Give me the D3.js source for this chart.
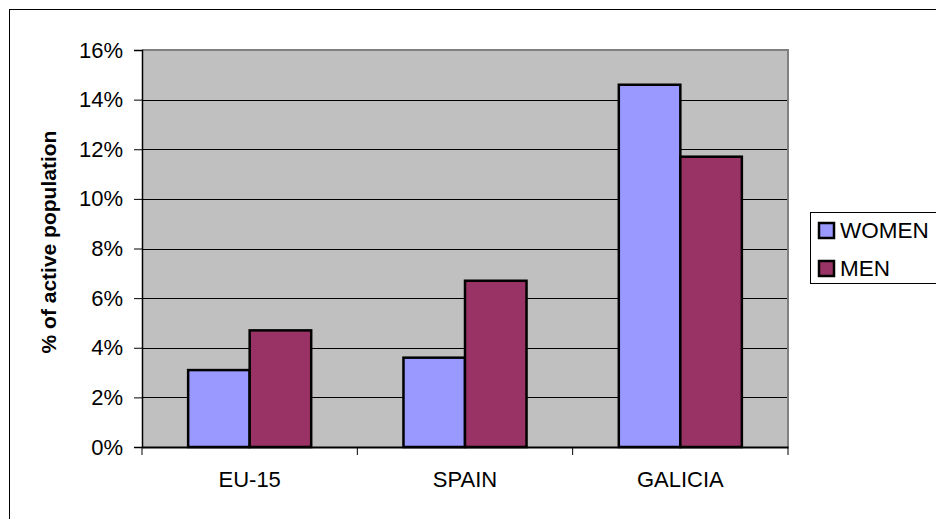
<!DOCTYPE html>
<html>
<head>
<meta charset="utf-8">
<script src="https://cdn.jsdelivr.net/npm/d3@7"></script>
<style>
  html, body { margin: 0; padding: 0; background: #fff; }
  svg { display: block; font-family: Arial, "Liberation Sans", sans-serif; }
</style>
</head>
<body>
<svg id="chart" width="936" height="519"></svg>
<script>
// Unemployment rate by sex, % of active population
const categories = ["EU-15", "SPAIN", "GALICIA"];
const seriesNames = ["WOMEN", "MEN"];
const women = [3.1, 3.6, 14.6];
const men = [4.7, 6.7, 11.7];
const yTicks = [0, 2, 4, 6, 8, 10, 12, 14, 16];
const colors = ["#9999ff", "#993366"];

const svg = d3.select("#chart");
const plot = { left: 142, top: 50, right: 788, bottom: 447 };

// outer chart frame (extends past the viewport on the right and bottom)
svg.append("rect")
  .attr("x", 9.5).attr("y", 9.5)
  .attr("width", 940).attr("height", 520)
  .attr("fill", "#fff").attr("stroke", "#000").attr("stroke-width", 1);

const x0 = d3.scaleBand().domain(categories).range([plot.left, plot.right]).padding(0);
const barW = x0.bandwidth() / 3.5;
const x1 = d3.scaleBand().domain(seriesNames).range([0, barW * 2]).padding(0);
const y = d3.scaleLinear().domain([0, 16]).range([plot.bottom, plot.top]);

// plot background
svg.append("rect")
  .attr("x", plot.left).attr("y", plot.top)
  .attr("width", plot.right - plot.left).attr("height", plot.bottom - plot.top)
  .attr("fill", "#c0c0c0");

// gridlines
svg.append("g").selectAll("line")
  .data(yTicks.filter(t => t > 0 && t < 16))
  .join("line")
  .attr("x1", plot.left).attr("x2", plot.right)
  .attr("y1", d => Math.round(y(d)) + 0.5).attr("y2", d => Math.round(y(d)) + 0.5)
  .attr("stroke", "#000").attr("stroke-width", 1);

// plot border (top / right)
svg.append("path")
  .attr("d", `M${plot.left},${plot.top}H${plot.right}V${plot.bottom}`)
  .attr("fill", "none").attr("stroke", "#808080").attr("stroke-width", 2);

// bars
const data = categories.map((c, i) => ({ cat: c, vals: [women[i], men[i]] }));
const groups = svg.append("g").selectAll("g")
  .data(data).join("g")
  .attr("transform", d => `translate(${x0(d.cat) + (x0.bandwidth() - barW * 2) / 2},0)`);
groups.selectAll("rect")
  .data(d => d.vals.map((v, j) => ({ key: seriesNames[j], v, j })))
  .join("rect")
  .attr("x", d => x1(d.key))
  .attr("y", d => y(d.v))
  .attr("width", x1.bandwidth())
  .attr("height", d => y(0) - y(d.v))
  .attr("fill", d => colors[d.j])
  .attr("stroke", "#000").attr("stroke-width", 2.5);

// y axis
const yAxis = d3.axisLeft(y).tickValues(yTicks).tickFormat(d => d + "%").tickSizeOuter(0).tickSize(8).tickPadding(11);
const gy = svg.append("g").attr("transform", `translate(${plot.left},0)`).call(yAxis);
gy.select(".domain").attr("stroke", "#000").attr("stroke-width", 1.5);
gy.selectAll(".tick line").attr("stroke", "#000");
gy.selectAll(".tick text").attr("font-size", 22).attr("fill", "#000")
  .attr("font-family", "Arial, 'Liberation Sans', sans-serif");

// x axis
const xAxis = d3.axisBottom(x0).tickSize(0).tickPadding(24).tickSizeOuter(0);
const gx = svg.append("g").attr("transform", `translate(0,${plot.bottom})`).call(xAxis);
gx.select(".domain").attr("stroke", "#000").attr("stroke-width", 2);
gx.selectAll(".tick text").attr("font-size", 22).attr("fill", "#000")
  .attr("font-family", "Arial, 'Liberation Sans', sans-serif");
// category separator ticks
svg.append("g").selectAll("line")
  .data(d3.range(categories.length + 1))
  .join("line")
  .attr("x1", i => plot.left + i * x0.bandwidth()).attr("x2", i => plot.left + i * x0.bandwidth())
  .attr("y1", plot.bottom).attr("y2", plot.bottom + 8)
  .attr("stroke", "#000").attr("stroke-width", 1);

// y axis title
svg.append("text")
  .attr("transform", "translate(56,242) rotate(-90)")
  .attr("text-anchor", "middle")
  .attr("font-size", 21).attr("font-weight", "bold")
  .text("% of active population");

// legend
const lg = svg.append("g");
lg.append("rect")
  .attr("x", 810.5).attr("y", 212.5).attr("width", 140).attr("height", 71)
  .attr("fill", "#fff").attr("stroke", "#000").attr("stroke-width", 1);
seriesNames.forEach((name, i) => {
  const top = 223 + i * 38;
  lg.append("rect")
    .attr("x", 819).attr("y", top).attr("width", 15).attr("height", 15)
    .attr("fill", colors[i]).attr("stroke", "#000").attr("stroke-width", 2.5);
  lg.append("text")
    .attr("x", 840).attr("y", top + 15)
    .attr("font-size", 22.5)
    .text(name);
});
</script>
</body>
</html>
